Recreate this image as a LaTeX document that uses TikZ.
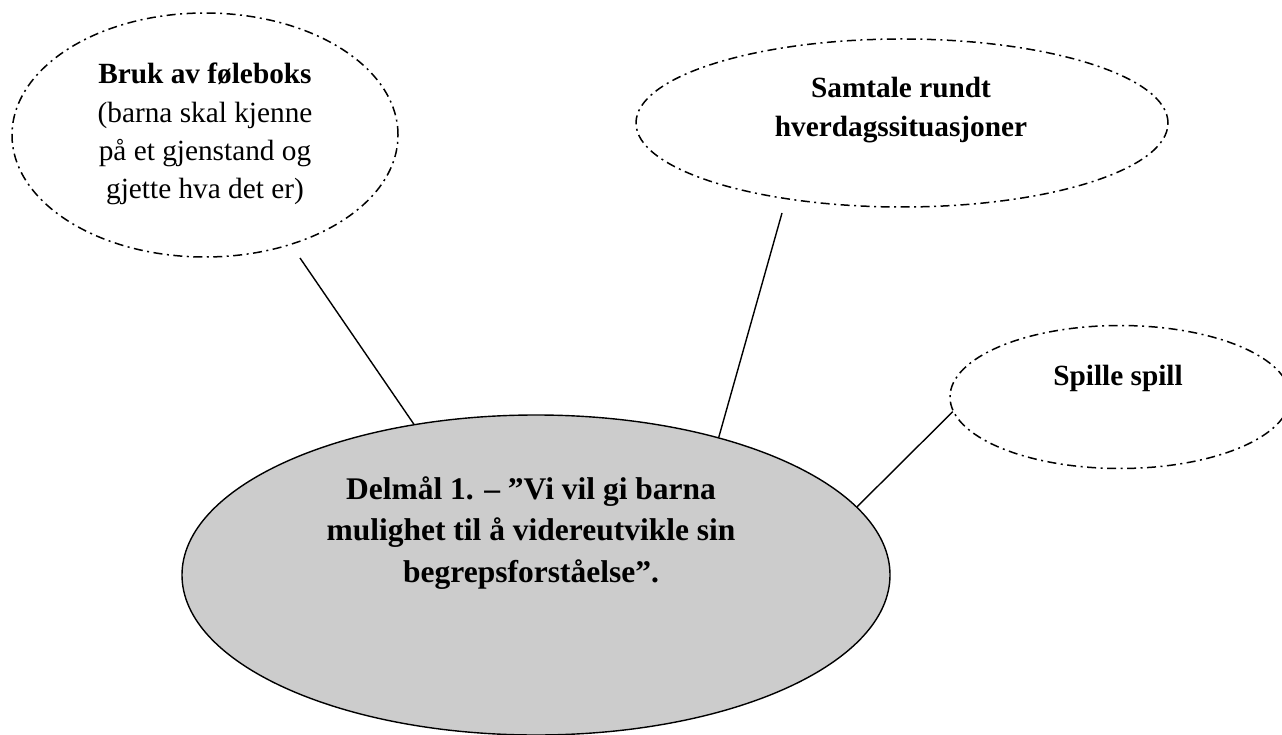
\documentclass[tikz,border=0pt]{standalone}
\usepackage{fontspec}
\setmainfont{Liberation Serif}
\usetikzlibrary{shapes.geometric}
\definecolor{centrefill}{RGB}{204,204,204}
\tikzset{
  dashell/.style={ellipse, draw=black, line width=1.5pt, inner sep=0pt,
    dash pattern=on 9pt off 4.5pt on 2pt off 4.5pt},
  mainell/.style={ellipse, draw=black, fill=centrefill, line width=1.4pt, inner sep=0pt},
  conn/.style={draw=black, line width=1.4pt},
  smalltext/.style={anchor=base, inner sep=0pt, font=\fontsize{29.3}{38.3}\selectfont},
  bigtext/.style={anchor=base, inner sep=0pt, font=\fontsize{31.5}{41.5}\selectfont\bfseries}
}
\begin{document}
\begin{tikzpicture}[x=1pt,y=-1pt]
\useasboundingbox (0,0) rectangle (1282,735);
\clip (0,0) rectangle (1282,735);
\fill[white] (0,0) rectangle (1282,735);
% ellipses
\node[dashell, minimum width=386pt, minimum height=244pt] (e1) at (205,135) {};
\node[dashell, minimum width=532pt, minimum height=168pt] (e2) at (902,123) {};
\node[dashell, minimum width=340pt, minimum height=143pt] (e3) at (1120,397) {};
\node[mainell, minimum width=708pt, minimum height=320pt] (c) at (536,575) {};
% texts
\node[smalltext] (t1) at (205,84) {\begin{tabular}[t]{@{}c@{}}\textbf{Bruk av føleboks}\\(barna skal kjenne\\på et gjenstand og\\gjette hva det er)\end{tabular}};
\node[smalltext, font=\fontsize{29.3}{39}\selectfont\bfseries] (t2) at (901,98) {\begin{tabular}[t]{@{}c@{}}Samtale rundt\\hverdagssituasjoner\end{tabular}};
\node[smalltext, font=\fontsize{29.3}{38.3}\selectfont\bfseries] (t3) at (1118,385) {Spille spill};
\node[bigtext] (t4) at (531,499) {\begin{tabular}[t]{@{}c@{}}Delmål 1. – ”Vi vil gi barna\\mulighet til å videreutvikle sin\\begrepsforståelse”.\end{tabular}};
% connector free ends
\coordinate (s1) at (300,258);
\coordinate (s2) at (782,213);
% connectors
\draw[conn] (s1) -- (c.129.8);
\draw[conn] (s2) -- (c.37.5);
\draw[conn] (e3.185.5) -- (c.12.3);
\end{tikzpicture}
\end{document}
